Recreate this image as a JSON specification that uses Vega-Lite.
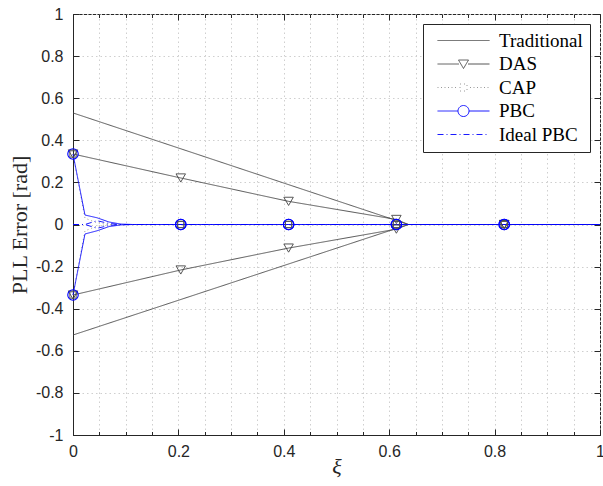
{
  "$schema": "https://vega.github.io/schema/vega-lite/v6.json",
  "width": 527,
  "height": 421,
  "autosize": "none",
  "padding": {"left": 73, "top": 14, "right": 3, "bottom": 51},
  "background": "white",
  "config": {
    "view": {"stroke": "#262626", "strokeWidth": 1},
    "axis": {
      "labelFont": "Liberation Sans",
      "labelFontSize": 16,
      "labelColor": "#262626",
      "labelFlush": false,
      "tickColor": "#262626",
      "domainColor": "#262626",
      "titleColor": "#262626",
      "gridColor": "#cfcfcf",
      "gridDash": [1.5, 3],
      "gridWidth": 1
    }
  },
  "datasets": {
    "d": [
      {"s": "Traditional", "b": "u", "x": 0, "y": 0.53},
      {"s": "Traditional", "b": "u", "x": 0.6364, "y": 0},
      {"s": "Traditional", "b": "u", "x": 1, "y": 0},
      {"s": "Traditional", "b": "l", "x": 0, "y": -0.525},
      {"s": "Traditional", "b": "l", "x": 0.6364, "y": 0},
      {"s": "Traditional", "b": "l", "x": 1, "y": 0},
      {"s": "DAS", "b": "u", "x": 0, "y": 0.335},
      {"s": "DAS", "b": "u", "x": 0.2045, "y": 0.221},
      {"s": "DAS", "b": "u", "x": 0.4091, "y": 0.11},
      {"s": "DAS", "b": "u", "x": 0.6136, "y": 0.024},
      {"s": "DAS", "b": "u", "x": 0.6364, "y": 0},
      {"s": "DAS", "b": "u", "x": 0.8182, "y": 0},
      {"s": "DAS", "b": "u", "x": 1, "y": 0},
      {"s": "DAS", "b": "l", "x": 0, "y": -0.335},
      {"s": "DAS", "b": "l", "x": 0.2045, "y": -0.216},
      {"s": "DAS", "b": "l", "x": 0.4091, "y": -0.112},
      {"s": "DAS", "b": "l", "x": 0.6136, "y": -0.022},
      {"s": "DAS", "b": "l", "x": 0.6364, "y": 0},
      {"s": "DAS", "b": "l", "x": 0.8182, "y": 0},
      {"s": "DAS", "b": "l", "x": 1, "y": 0},
      {"s": "CAP", "b": "u", "x": 0, "y": 0.335},
      {"s": "CAP", "b": "u", "x": 0.0227, "y": 0.03},
      {"s": "CAP", "b": "u", "x": 0.0455, "y": 0.008},
      {"s": "CAP", "b": "u", "x": 0.0682, "y": 0},
      {"s": "CAP", "b": "u", "x": 0.2045, "y": 0},
      {"s": "CAP", "b": "u", "x": 0.4091, "y": 0},
      {"s": "CAP", "b": "u", "x": 0.6136, "y": 0},
      {"s": "CAP", "b": "u", "x": 0.8182, "y": 0},
      {"s": "CAP", "b": "u", "x": 1, "y": 0},
      {"s": "CAP", "b": "l", "x": 0, "y": -0.335},
      {"s": "CAP", "b": "l", "x": 0.0227, "y": -0.03},
      {"s": "CAP", "b": "l", "x": 0.0455, "y": -0.008},
      {"s": "CAP", "b": "l", "x": 0.0682, "y": 0},
      {"s": "CAP", "b": "l", "x": 0.2045, "y": 0},
      {"s": "CAP", "b": "l", "x": 0.4091, "y": 0},
      {"s": "CAP", "b": "l", "x": 0.6136, "y": 0},
      {"s": "CAP", "b": "l", "x": 0.8182, "y": 0},
      {"s": "CAP", "b": "l", "x": 1, "y": 0},
      {"s": "PBC", "b": "u", "x": 0, "y": 0.335},
      {"s": "PBC", "b": "u", "x": 0.0227, "y": 0.045},
      {"s": "PBC", "b": "u", "x": 0.0455, "y": 0.032},
      {"s": "PBC", "b": "u", "x": 0.0682, "y": 0.012},
      {"s": "PBC", "b": "u", "x": 0.0909, "y": 0.002},
      {"s": "PBC", "b": "u", "x": 0.1136, "y": 0},
      {"s": "PBC", "b": "u", "x": 0.2045, "y": 0},
      {"s": "PBC", "b": "u", "x": 0.4091, "y": 0},
      {"s": "PBC", "b": "u", "x": 0.6136, "y": 0},
      {"s": "PBC", "b": "u", "x": 0.8182, "y": 0},
      {"s": "PBC", "b": "u", "x": 1, "y": 0},
      {"s": "PBC", "b": "l", "x": 0, "y": -0.335},
      {"s": "PBC", "b": "l", "x": 0.0227, "y": -0.045},
      {"s": "PBC", "b": "l", "x": 0.0455, "y": -0.03},
      {"s": "PBC", "b": "l", "x": 0.0682, "y": -0.01},
      {"s": "PBC", "b": "l", "x": 0.0909, "y": -0.002},
      {"s": "PBC", "b": "l", "x": 0.1136, "y": 0},
      {"s": "PBC", "b": "l", "x": 0.2045, "y": 0},
      {"s": "PBC", "b": "l", "x": 0.4091, "y": 0},
      {"s": "PBC", "b": "l", "x": 0.6136, "y": 0},
      {"s": "PBC", "b": "l", "x": 0.8182, "y": 0},
      {"s": "PBC", "b": "l", "x": 1, "y": 0},
      {"s": "Ideal PBC", "b": "u", "x": 0, "y": 0},
      {"s": "Ideal PBC", "b": "u", "x": 0.0227, "y": 0},
      {"s": "Ideal PBC", "b": "u", "x": 0.0455, "y": 0.018},
      {"s": "Ideal PBC", "b": "u", "x": 0.0682, "y": 0.005},
      {"s": "Ideal PBC", "b": "u", "x": 0.0909, "y": 0},
      {"s": "Ideal PBC", "b": "u", "x": 1, "y": 0},
      {"s": "Ideal PBC", "b": "l", "x": 0, "y": 0},
      {"s": "Ideal PBC", "b": "l", "x": 0.0227, "y": 0},
      {"s": "Ideal PBC", "b": "l", "x": 0.0455, "y": -0.018},
      {"s": "Ideal PBC", "b": "l", "x": 0.0682, "y": -0.005},
      {"s": "Ideal PBC", "b": "l", "x": 0.0909, "y": 0},
      {"s": "Ideal PBC", "b": "l", "x": 1, "y": 0}
    ]
  },
  "data": {"name": "d"},
  "layer": [
    {
      "mark": {"type": "line", "strokeWidth": 0.9},
      "encoding": {
        "x": {
          "field": "x", "type": "quantitative",
          "scale": {"domain": [0, 1], "nice": false, "zero": false},
          "axis": {
            "orient": "bottom",
            "values": [0, 0.2, 0.4, 0.6, 0.8, 1],
            "labelExpr": "toString(datum.value)",
            "grid": false,
            "tickSize": -6,
            "labelPadding": 14,
            "title": "ξ",
            "titleFont": "Liberation Serif",
            "titleFontStyle": "italic",
            "titleFontWeight": "normal",
            "titleFontSize": 22,
            "titlePadding": -3
          }
        },
        "y": {
          "field": "y", "type": "quantitative",
          "scale": {"domain": [-1, 1], "nice": false, "zero": false},
          "axis": {
            "orient": "left",
            "values": [-1, -0.8, -0.6, -0.4, -0.2, 0, 0.2, 0.4, 0.6, 0.8, 1],
            "labelExpr": "toString(datum.value)",
            "grid": true,
            "tickSize": -6,
            "labelPadding": 16,
            "title": "PLL Error [rad]",
            "titleFont": "Liberation Serif",
            "titleFontWeight": "normal",
            "titleFontSize": 22,
            "titlePadding": 4
          }
        },
        "color": {
          "field": "s", "type": "nominal",
          "scale": {
            "domain": ["Traditional", "DAS", "CAP", "PBC", "Ideal PBC"],
            "range": ["#444444", "#444444", "#8c8c8c", "#0000ff", "#0000ff"]
          },
          "legend": {
            "title": null,
            "orient": "top-right",
            "offset": 10,
            "fillColor": "white",
            "strokeColor": "#262626",
            "padding": 7,
            "rowPadding": 3.5,
            "labelFont": "Liberation Serif",
            "labelFontSize": 19,
            "labelColor": "#000000",
            "labelOffset": 50,
            "symbolSize": 100,
            "symbolStrokeWidth": 0.9,
            "encode": {
              "symbols": {
                "update": {
                  "shape": {"signal": "datum.value === 'Traditional' ? 'M-0.4,0H10' : datum.value === 'DAS' ? 'M-0.4,0H3.9M5.7,0H10M3.8,-0.8L5.8,-0.8L4.8,0.9Z' : datum.value === 'CAP' ? 'M-0.4,0h0.3m0.4,0h0.3m0.4,0h0.3m0.4,0h0.3m0.4,0h0.3m0.4,0h0.3M4.1,-0.7H5.5V0.7H4.1ZM6.1,0h0.3m0.4,0h0.3m0.4,0h0.3m0.4,0h0.3m0.4,0h0.3m0.4,0h0.3' : datum.value === 'PBC' ? 'M-0.4,0H3.7M5.9,0H10M5.9,0A1.1,1.1 0 1,1 3.7,0A1.1,1.1 0 1,1 5.9,0' : 'M-0.4,0H0.8M1.4,0H1.6M2.2,0H3.4M4,0H4.2M4.8,0H6M6.6,0H6.8M7.4,0H8.6M9.2,0H9.4'"},
                  "fill": {"value": "transparent"},
                  "strokeDash": {"value": [1, 0]}
                }
              }
            }
          }
        },
        "strokeDash": {
          "field": "s", "type": "nominal",
          "scale": {
            "domain": ["Traditional", "DAS", "CAP", "PBC", "Ideal PBC"],
            "range": [[1, 0], [1, 0], [1, 3], [1, 0], [6, 3, 1, 3]]
          },
          "legend": null
        },
        "detail": {"field": "b"}
      }
    },
    {
      "transform": [{"filter": {"and": [{"field": "s", "equal": "DAS"}, {"field": "x", "oneOf": [0, 0.2045, 0.4091, 0.6136, 0.8182]}]}}],
      "mark": {"type": "point", "shape": "triangle-down", "filled": false, "stroke": "#444444", "strokeWidth": 0.9, "size": 90, "opacity": 1},
      "encoding": {
        "x": {
          "field": "x", "type": "quantitative",
          "scale": {"domain": [0, 1], "nice": false, "zero": false},
          "axis": {
            "orient": "bottom",
            "values": [0, 0.05, 0.1, 0.15, 0.2, 0.25, 0.3, 0.35, 0.4, 0.45, 0.5, 0.55, 0.6, 0.65, 0.7, 0.75, 0.8, 0.85, 0.9, 0.95, 1],
            "labels": false, "domain": false, "grid": true, "tickSize": -3.5, "title": null
          }
        },
        "y": {
          "field": "y", "type": "quantitative",
          "scale": {"domain": [-1, 1], "nice": false, "zero": false},
          "axis": {
            "orient": "right",
            "values": [-1, -0.8, -0.6, -0.4, -0.2, 0, 0.2, 0.4, 0.6, 0.8, 1],
            "labels": false, "domain": false, "grid": false, "tickSize": -6, "title": null
          }
        }
      }
    },
    {
      "transform": [{"filter": {"and": [{"field": "s", "equal": "CAP"}, {"field": "x", "oneOf": [0, 0.2045, 0.4091, 0.6136, 0.8182]}]}}],
      "mark": {"type": "point", "shape": "square", "filled": false, "stroke": "#505050", "strokeWidth": 0.9, "size": 40, "opacity": 1},
      "encoding": {
        "x": {
          "field": "x", "type": "quantitative",
          "scale": {"domain": [0, 1], "nice": false, "zero": false},
          "axis": {
            "orient": "top",
            "values": [0, 0.2, 0.4, 0.6, 0.8, 1],
            "labels": false, "domain": false, "grid": false, "tickSize": -6, "title": null
          }
        },
        "y": {
          "field": "y", "type": "quantitative",
          "scale": {"domain": [-1, 1], "nice": false, "zero": false},
          "axis": null
        }
      }
    },
    {
      "transform": [{"filter": {"and": [{"field": "s", "equal": "PBC"}, {"field": "x", "oneOf": [0, 0.2045, 0.4091, 0.6136, 0.8182]}]}}],
      "mark": {"type": "point", "shape": "circle", "filled": false, "stroke": "#0000ff", "strokeWidth": 1.1, "size": 110, "opacity": 1},
      "encoding": {
        "x": {
          "field": "x", "type": "quantitative",
          "scale": {"domain": [0, 1], "nice": false, "zero": false},
          "axis": {
            "orient": "top",
            "values": [0, 0.05, 0.1, 0.15, 0.2, 0.25, 0.3, 0.35, 0.4, 0.45, 0.5, 0.55, 0.6, 0.65, 0.7, 0.75, 0.8, 0.85, 0.9, 0.95, 1],
            "labels": false, "domain": false, "grid": false, "tickSize": -3.5, "title": null
          }
        },
        "y": {
          "field": "y", "type": "quantitative",
          "scale": {"domain": [-1, 1], "nice": false, "zero": false},
          "axis": null
        }
      }
    }
  ],
  "resolve": {"axis": {"x": "independent", "y": "independent"}}
}
